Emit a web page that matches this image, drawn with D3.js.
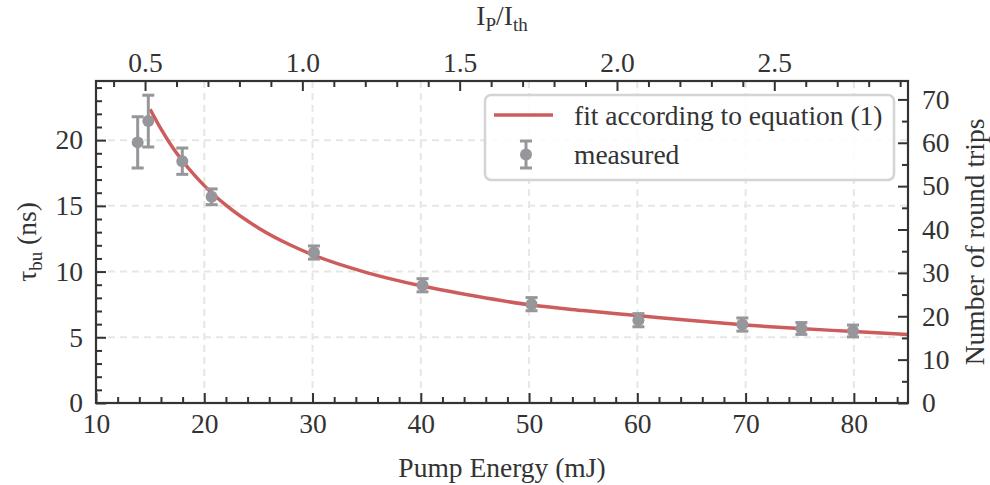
<!DOCTYPE html>
<meta charset="utf-8">
<script src="https://d3js.org/d3.v7.min.js"></script>
<style>
  body { margin: 0; background: #fff; }
  svg text { font-family: "Liberation Serif", "DejaVu Serif", serif; fill: #333; }
</style>
<div id="my_dataviz"></div>
<script>
  // measured build-up times (ns) vs pump energy (mJ)
  var energy = [13.85, 14.83, 17.97, 20.68, 30.13, 40.16, 50.23, 60.1, 69.7, 75.15, 79.92];
  var tau = [19.83, 21.45, 18.4, 15.69, 11.45, 8.96, 7.52, 6.3, 5.97, 5.67, 5.48];
  var tauErr = [1.95, 1.97, 1.0, 0.6, 0.5, 0.5, 0.5, 0.5, 0.5, 0.45, 0.45];

  // fit curve
  var fitEnergy = [15, 16, 17, 18, 20, 22, 25, 28, 30, 35, 40, 45, 50, 55, 60, 65, 70, 75, 80, 85];
  var fitTau = [22.35, 20.85, 19.54, 18.41, 16.54, 15.05, 13.32, 12.0, 11.28, 9.92, 8.92, 8.14, 7.47, 7.03, 6.65, 6.27, 5.93, 5.66, 5.44, 5.21];

  // tick values
  var xMajor = [10, 20, 30, 40, 50, 60, 70, 80];
  var yMajor = [0, 5, 10, 15, 20];
  var topMajor = [0.5, 1.0, 1.5, 2.0, 2.5];
  var rightMajor = [0, 10, 20, 30, 40, 50, 60, 70];

  var thresholdEnergy = 29.06;   // I_P/I_th = E / thresholdEnergy
  var roundTrip = 0.33;          // ns per round trip

  var margin = {top: 81, right: 82, bottom: 82, left: 96},
    width = 990 - margin.left - margin.right,
    height = 485 - margin.top - margin.bottom;

  var fs = 27.5;
  var serif = "Liberation Serif";
  var red = "#cd5c5c", gray = "#96969b", dark = "#333";

  var svg = d3.select("#my_dataviz")
    .append("svg")
    .attr("width", 990)
    .attr("height", 485)
    .attr("font-family", serif)
    .append("g")
    .attr("transform", "translate(" + margin.left + "," + margin.top + ")");

  var x = d3.scaleLinear().domain([10, 85]).range([0, width]);
  var y = d3.scaleLinear().domain([0, 24.5]).range([height, 0]);
  var xTop = d3.scaleLinear().domain([10 / thresholdEnergy, 85 / thresholdEnergy]).range([0, width]);
  var yRight = d3.scaleLinear().domain([0, 24.5 / roundTrip]).range([height, 0]);

  function steps(a, b, s) {
    var out = [];
    for (var v = a; v <= b + 1e-9; v += s) out.push(+v.toFixed(3));
    return out;
  }

  // grid
  svg.append("g").selectAll("line")
    .data(xMajor.slice(1))
    .enter().append("line")
    .attr("x1", d => x(d)).attr("x2", d => x(d))
    .attr("y1", 0).attr("y2", height)
    .style("stroke", "#e6e6e6").style("stroke-width", 2).style("stroke-dasharray", "7,5");
  svg.append("g").selectAll("line")
    .data(yMajor.slice(1))
    .enter().append("line")
    .attr("y1", d => y(d)).attr("y2", d => y(d))
    .attr("x1", 0).attr("x2", width)
    .style("stroke", "#e6e6e6").style("stroke-width", 2).style("stroke-dasharray", "7,5");

  // axes with inward ticks
  function styleAxis(g) {
    g.attr("font-family", serif);
    g.select(".domain").remove();
    g.selectAll(".tick line").style("stroke", dark).style("stroke-width", 2);
    g.selectAll(".tick text").style("font-size", fs + "px").style("font-family", serif).attr("fill", dark);
  }

  svg.append("g").attr("transform", "translate(0," + height + ")")
    .call(d3.axisBottom(x).tickValues(xMajor).tickSize(-10).tickPadding(10).tickFormat(d3.format("d")))
    .call(styleAxis);
  svg.append("g").attr("transform", "translate(0," + height + ")")
    .call(d3.axisBottom(x).tickValues(steps(12, 84, 2).filter(d => d % 10)).tickSize(-6).tickFormat(""))
    .call(styleAxis);

  svg.append("g")
    .call(d3.axisTop(xTop).tickValues(topMajor).tickSize(-10).tickPadding(9).tickFormat(d3.format(".1f")))
    .call(styleAxis);
  svg.append("g")
    .call(d3.axisTop(xTop).tickValues(steps(0.4, 2.9, 0.1).filter(d => Math.abs(d * 2 - Math.round(d * 2)) > 1e-6)).tickSize(-6).tickFormat(""))
    .call(styleAxis);

  svg.append("g")
    .call(d3.axisLeft(y).tickValues(yMajor).tickSize(-10).tickPadding(13).tickFormat(d3.format("d")))
    .call(styleAxis);
  svg.append("g")
    .call(d3.axisLeft(y).tickValues(steps(1, 24, 1).filter(d => d % 5)).tickSize(-6).tickFormat(""))
    .call(styleAxis);

  svg.append("g").attr("transform", "translate(" + width + ",0)")
    .call(d3.axisRight(yRight).tickValues(rightMajor).tickSize(-10).tickPadding(14).tickFormat(d3.format("d")))
    .call(styleAxis);
  svg.append("g").attr("transform", "translate(" + width + ",0)")
    .call(d3.axisRight(yRight).tickValues(steps(5, 70, 10)).tickSize(-6).tickFormat(""))
    .call(styleAxis);

  // fit curve
  var fitData = fitEnergy.map((e, i) => ({e: e, t: fitTau[i]}));
  svg.append("path")
    .datum(fitData)
    .attr("fill", "none")
    .attr("stroke", red)
    .attr("stroke-width", 3.5)
    .attr("d", d3.line().x(d => x(d.e)).y(d => y(d.t)).curve(d3.curveMonotoneX));

  // measured points with error bars
  var pts = energy.map((e, i) => ({e: e, t: tau[i], err: tauErr[i]}));
  var eb = svg.append("g").selectAll("g").data(pts).enter().append("g");
  eb.append("line")
    .attr("x1", d => x(d.e)).attr("x2", d => x(d.e))
    .attr("y1", d => y(d.t - d.err)).attr("y2", d => y(d.t + d.err))
    .style("stroke", gray).style("stroke-width", 3);
  [-1, 1].forEach(function(sgn) {
    eb.append("line")
      .attr("x1", d => x(d.e) - 6).attr("x2", d => x(d.e) + 6)
      .attr("y1", d => y(d.t + sgn * d.err)).attr("y2", d => y(d.t + sgn * d.err))
      .style("stroke", gray).style("stroke-width", 3);
  });
  eb.append("circle")
    .attr("cx", d => x(d.e)).attr("cy", d => y(d.t)).attr("r", 6)
    .style("fill", gray);

  // frame
  svg.append("rect")
    .attr("width", width).attr("height", height)
    .attr("fill", "none").attr("stroke", dark).attr("stroke-width", 2.2);

  // legend
  var lg = svg.append("g").attr("transform", "translate(" + (485 - margin.left) + "," + (95 - margin.top) + ")");
  lg.append("rect")
    .attr("width", 409).attr("height", 85).attr("rx", 6)
    .attr("fill", "white").attr("fill-opacity", 0.85)
    .attr("stroke", "#d4d4d4").attr("stroke-width", 2.5);
  lg.append("line")
    .attr("x1", 9).attr("x2", 68).attr("y1", 20).attr("y2", 20)
    .style("stroke", red).style("stroke-width", 3.5);
  lg.append("line")
    .attr("x1", 41).attr("x2", 41).attr("y1", 46).attr("y2", 73)
    .style("stroke", gray).style("stroke-width", 3);
  lg.append("line").attr("x1", 35).attr("x2", 47).attr("y1", 46).attr("y2", 46)
    .style("stroke", gray).style("stroke-width", 3);
  lg.append("line").attr("x1", 35).attr("x2", 47).attr("y1", 73).attr("y2", 73)
    .style("stroke", gray).style("stroke-width", 3);
  lg.append("circle").attr("cx", 41).attr("cy", 59.5).attr("r", 6).style("fill", gray);
  lg.append("text").attr("x", 89).attr("y", 30).style("font-size", fs + "px").text("fit according to equation (1)");
  lg.append("text").attr("x", 89).attr("y", 69).style("font-size", fs + "px").text("measured");

  // axis labels
  svg.append("text")
    .attr("x", width / 2).attr("y", height + 74)
    .attr("text-anchor", "middle").style("font-size", fs + "px")
    .text("Pump Energy (mJ)");

  var tl = svg.append("text")
    .attr("x", width / 2).attr("y", -56)
    .attr("text-anchor", "middle").style("font-size", fs + "px");
  tl.append("tspan").text("I");
  tl.append("tspan").attr("dy", 6).style("font-size", "19px").text("P");
  tl.append("tspan").attr("dy", -6).text("/I");
  tl.append("tspan").attr("dy", 6).style("font-size", "19px").text("th");

  var ll = svg.append("text")
    .attr("transform", "translate(" + (36 - margin.left) + "," + (height / 2) + ") rotate(-90)")
    .attr("text-anchor", "middle").style("font-size", fs + "px");
  ll.append("tspan").text("τ");
  ll.append("tspan").attr("dy", 6).style("font-size", "19px").text("bu");
  ll.append("tspan").attr("dy", -6).text(" (ns)");

  svg.append("text")
    .attr("transform", "translate(" + (width + 76) + "," + (height / 2) + ") rotate(-90)")
    .attr("text-anchor", "middle").style("font-size", fs + "px")
    .text("Number of round trips");
</script>
